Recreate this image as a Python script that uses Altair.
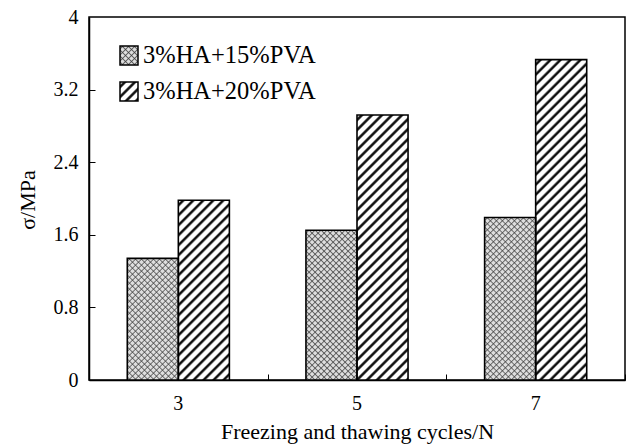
import altair as alt
import pandas as pd

# ---- data ----
cycles = ["3", "5", "7"]
series_names = ["3%HA+15%PVA", "3%HA+20%PVA"]
vals_15 = [1.34, 1.65, 1.79]
vals_20 = [1.98, 2.92, 3.53]
y_ticks = [0, 0.8, 1.6, 2.4, 3.2, 4]
y_inner_ticks = [0.8, 1.6, 2.4, 3.2]

# ---- layout / style ----
W, H = 536, 363
YMAX = 4
SERIF = "Liberation Serif"
OUTER = 0.75
BAND_W = W / len(cycles) / (2 + 2 * OUTER)

df = pd.DataFrame({
    "cycle": cycles * 2,
    "series": [series_names[0]] * 3 + [series_names[1]] * 3,
    "value": vals_15 + vals_20,
})


def stripes(w, h, period, direction, profile):
    """Linear gradient drawing 45-degree stripes inside a w x h pixel box."""
    L = w + h
    k = L / (w * w + h * h)
    if direction == "/":
        x1, y1, x2, y2 = 0, 0, k * w, k * h
    else:
        x1, y1, x2, y2 = 0, 1, k * w, 1 - k * h
    pt = period / L
    stops = []
    last = -1.0
    i = 0
    while i * pt <= 1:
        for frac, col in profile:
            off = round(i * pt + frac * pt, 5)
            if off <= 1 and off >= last:
                stops.append({"offset": off, "color": col})
                last = off
        i += 1
    return {"gradient": "linear", "x1": round(x1, 5), "y1": round(y1, 5),
            "x2": round(x2, 5), "y2": round(y2, 5), "stops": stops}


HATCH = [(0, "white"), (0.22, "white"), (0.42, "#111"), (0.58, "#111"), (0.78, "white")]
CLEAR = "rgba(60,60,60,0)"
LINE = "rgba(60,60,60,0.75)"
CROSS = [(0, CLEAR), (0.28, CLEAR), (0.5, LINE), (0.72, CLEAR)]
CROSS_BG = "#dedede"
HATCH_P = 10
CROSS_P = 6

x_scale = alt.Scale(type="band", paddingInner=0, paddingOuter=0)
xo_scale = alt.Scale(type="band", paddingInner=0, paddingOuter=OUTER)
y_scale = alt.Scale(domain=[0, YMAX], nice=False, zero=True)


def enc(chart, x_axis=None, y_axis=None):
    return chart.encode(
        x=alt.X("cycle:N", sort=cycles, scale=x_scale,
                **({"axis": x_axis} if x_axis is not None else {"axis": None})),
        xOffset=alt.XOffset("series:N", sort=series_names, scale=xo_scale),
        y=alt.Y("value:Q", scale=y_scale,
                **({"axis": y_axis} if y_axis is not None else {"axis": None})),
    )


base = alt.Chart(df)
layers = []

# background fills
layers.append(enc(base.transform_filter(f"datum.series=='{series_names[0]}'")
                  .mark_bar(fill=CROSS_BG, strokeWidth=0)))
layers.append(enc(base.transform_filter(f"datum.series=='{series_names[1]}'")
                  .mark_bar(fill="white", strokeWidth=0)))

# per-bar pattern fills
for c, v15, v20 in zip(cycles, vals_15, vals_20):
    h15 = v15 / YMAX * H
    h20 = v20 / YMAX * H
    f15 = base.transform_filter(f"datum.cycle=='{c}' && datum.series=='{series_names[0]}'")
    f20 = base.transform_filter(f"datum.cycle=='{c}' && datum.series=='{series_names[1]}'")
    layers.append(enc(f15.mark_bar(fill=stripes(BAND_W, h15, CROSS_P, "/", CROSS), strokeWidth=0)))
    layers.append(enc(f15.mark_bar(fill=stripes(BAND_W, h15, CROSS_P, "\\", CROSS), strokeWidth=0)))
    layers.append(enc(f20.mark_bar(fill=stripes(BAND_W, h20, HATCH_P, "/", HATCH), strokeWidth=0)))

# outlines + main axes
ax_bottom = alt.Axis(orient="bottom", ticks=False, domain=True, domainColor="black",
                     domainWidth=1.5, labelAngle=0, labelFont=SERIF, labelFontSize=20,
                     labelColor="black", labelPadding=13, grid=False,
                     title="Freezing and thawing cycles/N", titleFont=SERIF,
                     titleFontSize=22, titleFontWeight="normal", titleColor="black",
                     titlePadding=8)
ax_left = alt.Axis(orient="left", values=y_ticks, ticks=False, domain=True,
                   domainColor="black", domainWidth=1.5, labelExpr="'' + datum.value",
                   labelFont=SERIF, labelFontSize=20, labelColor="black",
                   labelPadding=11, grid=False, title="σ/MPa", titleFont=SERIF,
                   titleFontSize=22, titleFontWeight="normal", titleColor="black",
                   titleAngle=270, titleAlign="center", titleBaseline="alphabetic",
                   titleX=-55, titleY=H / 2 + 1)
layers.append(enc(base.mark_bar(fill="white", fillOpacity=0, stroke="black",
                                strokeWidth=1.6), ax_bottom, ax_left))

# inward ticks
ax_xticks = alt.Axis(orient="top", offset=-H, tickBand="extent", ticks=True, tickSize=6,
                     tickColor="black", tickWidth=1, labels=False, domain=False,
                     grid=False, title="")
ax_yticks = alt.Axis(orient="right", offset=-W, values=y_inner_ticks, ticks=True,
                     tickSize=6, tickColor="black", tickWidth=1, labels=False,
                     domain=False, grid=False, title="")
layers.append(enc(base.mark_bar(opacity=0), ax_xticks, ax_yticks))

# manual legend
leg = alt.Chart(pd.DataFrame({"k": [0]}))
SW, SH = 18, 19
sym_pos = [(31, 49, 29, 48), (31, 49, 65, 84)]


def rect(fill, pos, **kw):
    x1, x2, y1, y2 = pos
    return leg.mark_rect(fill=fill, **kw).encode(
        x=alt.value(x1), x2=alt.value(x2), y=alt.value(y1), y2=alt.value(y2))


layers.append(rect(CROSS_BG, sym_pos[0], strokeWidth=0))
layers.append(rect(stripes(SW, SH, CROSS_P, "/", CROSS), sym_pos[0], strokeWidth=0))
layers.append(rect(stripes(SW, SH, CROSS_P, "\\", CROSS), sym_pos[0], strokeWidth=0))
layers.append(rect(stripes(SW, SH, HATCH_P, "/", HATCH), sym_pos[1], strokeWidth=0))
for p in sym_pos:
    layers.append(rect("white", p, fillOpacity=0, stroke="black", strokeWidth=1.5))

for name, yc in zip(series_names, [39, 75]):
    layers.append(leg.mark_text(align="left", baseline="middle", font=SERIF,
                                fontSize=24.5, color="black").encode(
        x=alt.value(54), y=alt.value(yc), text=alt.value(name)))

chart = alt.layer(*layers).resolve_axis(x="independent", y="independent").properties(
    width=W, height=H,
    autosize=alt.AutoSizeParams(type="none"),
    padding={"left": 89, "top": 17, "right": 3, "bottom": 68},
    background="white",
).configure_view(stroke="black", strokeWidth=1.5)

chart.save("out.html", embed_options={"renderer": "svg", "actions": False})
